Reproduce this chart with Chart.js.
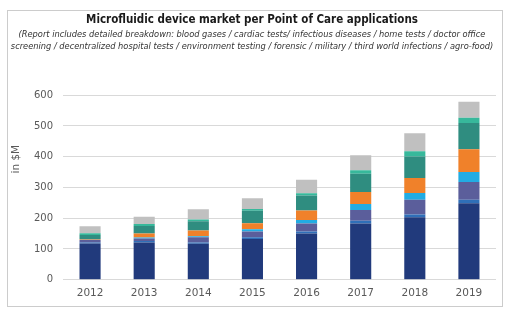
<!DOCTYPE html>
<html>
<head>
<meta charset="utf-8">
<script src="https://cdn.jsdelivr.net/npm/chart.js@4/dist/chart.umd.min.js"></script>
<style>
html,body{margin:0;padding:0;background:#fff;}
#wrap{width:519px;height:321px;position:relative;}
</style>
</head>
<body>
<div id="wrap"><canvas id="c" width="519" height="321"></canvas></div>
<script>
const years = ["2012","2013","2014","2015","2016","2017","2018","2019"];
const navy       = [118, 121, 117, 132, 150, 183, 203, 249];
const blueLine   = [  3,   5,   4,   6,   7,   9,   9,  11];
const slate      = [  8,   8,  17,  19,  26,  35,  48,  58];
const cyan       = [  1,   3,   3,   7,  11,  19,  22,  32];
const orange     = [  2,  13,  19,  20,  31,  39,  49,  74];
const darkTeal   = [ 13,  25,  30,  40,  49,  60,  70,  86];
const lightTeal  = [  6,   6,   6,   6,   7,  11,  17,  17];
const gray       = [ 23,  24,  33,  35,  44,  49,  58,  52];
const yTicks = [0,100,200,300,400,500,600];

const titleText = "Microfluidic device market per Point of Care applications";
const subtitleLines = [
  "(Report includes detailed breakdown: blood gases / cardiac tests/ infectious diseases / home tests / doctor office",
  "screening / decentralized hospital tests / environment testing / forensic / military / third world infections / agro-food)"
];
const yTitle = "in $M";

const series = [
  {label:"Navy", data:navy, color:"#213a7c"},
  {label:"Blue", data:blueLine, color:"#2f6fb8"},
  {label:"Slate", data:slate, color:"#5b5e9b"},
  {label:"Cyan", data:cyan, color:"#22ace3"},
  {label:"Orange", data:orange, color:"#f0812a"},
  {label:"Dark teal", data:darkTeal, color:"#2f8d80"},
  {label:"Light teal", data:lightTeal, color:"#37b89b"},
  {label:"Gray", data:gray, color:"#c0c0c0"}
];

const frame = {
  id:"frame",
  beforeDraw(chart){
    const ctx = chart.ctx;
    ctx.save();
    ctx.strokeStyle = "#cccccc";
    ctx.lineWidth = 1;
    ctx.strokeRect(7.5, 10.5, 495, 296);
    ctx.restore();
  },
  afterDraw(chart){
    const ctx = chart.ctx;
    const y = chart.scales.y;
    ctx.save();
    ctx.translate(16, y.getPixelForValue(392));
    ctx.rotate(-Math.PI/2);
    ctx.fillStyle = "#595959";
    ctx.font = "10.5px 'DejaVu Sans'";
    ctx.textAlign = "center";
    ctx.textBaseline = "middle";
    ctx.fillText(yTitle, 0, 0);
    ctx.restore();
  }
};

new Chart(document.getElementById("c"), {
  type:"bar",
  data:{
    labels:years,
    datasets:series.map(s=>({
      label:s.label, data:s.data, backgroundColor:s.color, borderWidth:0,
      categoryPercentage:1.0, barPercentage:0.39
    }))
  },
  plugins:[frame],
  options:{
    responsive:false,
    animation:false,
    devicePixelRatio:1,
    layout:{padding:{left:8,right:23,top:10,bottom:14.7}},
    plugins:{
      legend:{display:false},
      tooltip:{enabled:false},
      title:{display:true,text:titleText,color:"#1a1a1a",
        font:{family:"'DejaVu Sans Condensed','DejaVu Sans'",size:11.5,weight:"bold",lineHeight:1.2},
        padding:{top:3,bottom:0}},
      subtitle:{display:true,text:subtitleLines,color:"#333333",
        font:{family:"'DejaVu Sans Condensed','DejaVu Sans'",size:9.2,style:"italic",lineHeight:1.25},
        padding:{top:2.45,bottom:43}}
    },
    scales:{
      x:{stacked:true,
        grid:{display:false,drawTicks:false},
        border:{display:false},
        ticks:{color:"#595959",padding:7,font:{family:"'DejaVu Sans'",size:10.5}}
      },
      y:{stacked:true,min:0,max:600,
        afterFit(s){s.width=55;},
        afterBuildTicks(s){s.ticks=yTicks.map(v=>({value:v}));},
        grid:{color:"#d9d9d9",drawTicks:false,lineWidth:1},
        border:{display:false},
        ticks:{color:"#595959",padding:10,font:{family:"'DejaVu Sans'",size:10}}
      }
    }
  }
});
</script>
</body>
</html>
